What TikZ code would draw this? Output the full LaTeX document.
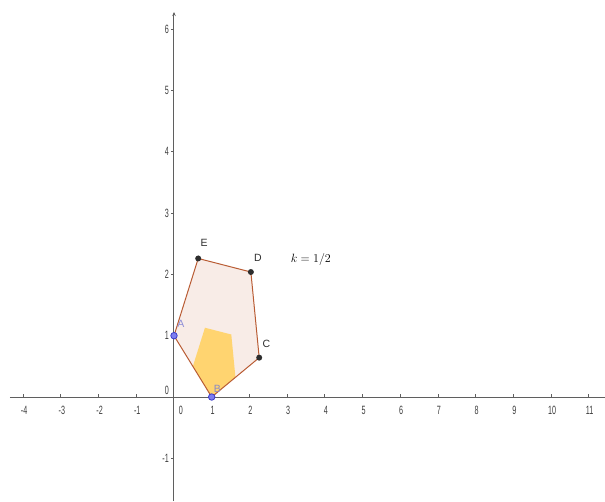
\documentclass[tikz,border=0pt]{standalone}
\usepackage{fontspec}
\setsansfont{Liberation Sans}
\usetikzlibrary{arrows.meta,positioning,calc}
\definecolor{axisgray}{RGB}{95,95,95}
\definecolor{numgray}{RGB}{60,60,60}
\definecolor{edgebrown}{RGB}{185,92,52}
\definecolor{softpink}{RGB}{248,236,231}
\definecolor{softorange}{RGB}{255,212,112}
\definecolor{ptblue}{RGB}{60,60,200}
\definecolor{ptbluefill}{RGB}{125,125,240}
\definecolor{ptdark}{RGB}{45,45,45}
\definecolor{lblblue}{RGB}{140,140,215}
\newcommand{\sqz}[1]{\scalebox{0.6}[1]{#1}}
\tikzset{
  axisline/.style={draw=axisgray, line width=1pt},
  tickmark/.style={draw=axisgray, line width=0.8pt},
  ticklbl/.style={font=\sffamily\fontsize{12}{13}\selectfont, text=numgray, inner sep=0pt},
  bigpoly/.style={fill=softpink},
  smallpoly/.style={fill=softorange},
  side/.style={draw=edgebrown, line width=1pt, line cap=round},
  freept/.style={circle, draw=ptblue, fill=ptbluefill, line width=0.8pt, inner sep=0pt, minimum size=6.5pt},
  fixpt/.style={circle, fill=ptdark, inner sep=0pt, minimum size=6pt},
  ptlabel/.style={font=\sffamily\fontsize{10.5}{12}\selectfont, text=ptdark, inner sep=0pt},
}
\begin{document}
\begin{tikzpicture}[x=37.7pt, y=61.3pt]
\useasboundingbox (-174pt,-104pt) rectangle (431pt,397pt);
% vertices of the pentagon and its image (centre B, k = 1/2)
\coordinate (A) at (0,1);
\coordinate (B) at (1,0);
\coordinate (C) at (2.260,0.642);
\coordinate (D) at (2.039,2.039);
\coordinate (E) at (0.642,2.260);
\foreach \p in {A,C,D,E}
  \coordinate (\p2) at ($(B)!0.5!(\p)$);

\fill[bigpoly] (A) -- (B) -- (C) -- (D) -- (E) -- cycle;
\fill[smallpoly] (A2) -- (B) -- (C2) -- (D2) -- (E2) -- cycle;

% axes
\coordinate (xl) at (-164pt,0);
\coordinate (xr) at (431pt,0);
\coordinate (yb) at (0,-104pt);
\coordinate (yt) at (0,385pt);
\draw[axisline] (xl) -- (xr);
\draw[axisline, -{Stealth[length=4pt,width=3.5pt]}] (yb) -- (yt);
\foreach \x in {-4,...,-1,1,2,...,11} {
  \draw[tickmark] (\x,0) -- ++(0,3pt);
  \node[ticklbl] (xt\x) at ($(\x,0)+(1pt,-13pt)$) {\sqz{\x}};
}
\foreach \y in {-1,1,2,...,6} {
  \draw[tickmark] (0,\y) -- ++(-3pt,0);
  \node[ticklbl, anchor=east] (yt\y) at ($(0,\y)+(-5pt,0)$) {\sqz{\y}};
}
\node[ticklbl] (yt0) at (-7pt,7pt) {\sqz{0}};
\node[ticklbl] (xt0) at (7pt,-13pt) {\sqz{0}};

% sides
\foreach \a/\b in {A/B, B/C, C/D, D/E, E/A}
  \draw[side] (\a) -- (\b);

% points
\node[freept] (ptA) at (A) {};
\node[freept] (ptB) at (B) {};
\node[fixpt] (ptC) at (C) {};
\node[fixpt] (ptD) at (D) {};
\node[fixpt] (ptE) at (E) {};
\node[ptlabel, text=lblblue, above right=5pt and 0.5pt of ptA] (lblA) {A};
\node[ptlabel, text=lblblue!80!gray, above right=2pt and -0.5pt of ptB] (lblB) {B};
\node[ptlabel, above right=7.4pt and 0.9pt of ptC] (lblC) {C};
\node[ptlabel, above right=8.4pt and 0.9pt of ptD] (lblD) {D};
\node[ptlabel, above right=9.4pt and -0.1pt of ptE] (lblE) {E};

\node[font=\fontsize{13}{15}\selectfont] (klbl) at (3.63,2.25) {$k=1/2$};
\end{tikzpicture}
\end{document}
